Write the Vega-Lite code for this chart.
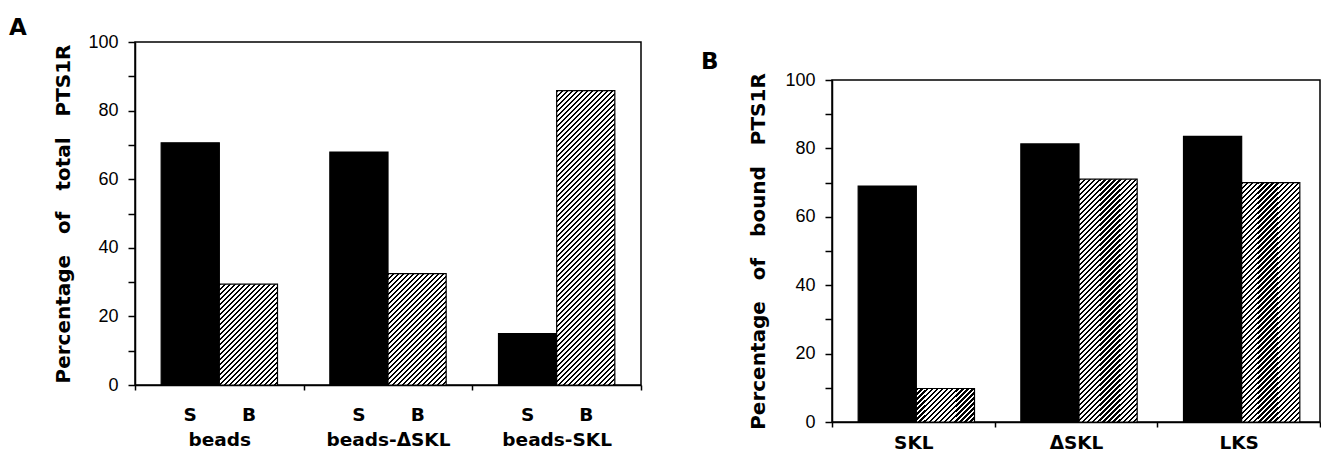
{
  "$schema": "https://vega.github.io/schema/vega-lite/v6.json",
  "background": "white",
  "padding": {"left": 8, "top": 16, "right": 0, "bottom": 0},
  "spacing": 191,
  "bounds": "flush",
  "params": [
    {"name": "hs", "value": [
      {"offset":0,"color":"#000"},{"offset":0.006,"color":"#000"},{"offset":0.006,"color":"#fff"},{"offset":0.0125,"color":"#fff"},
      {"offset":0.0125,"color":"#000"},{"offset":0.0185,"color":"#000"},{"offset":0.0185,"color":"#fff"},{"offset":0.025,"color":"#fff"},
      {"offset":0.025,"color":"#000"},{"offset":0.031,"color":"#000"},{"offset":0.031,"color":"#fff"},{"offset":0.0375,"color":"#fff"},
      {"offset":0.0375,"color":"#000"},{"offset":0.0435,"color":"#000"},{"offset":0.0435,"color":"#fff"},{"offset":0.05,"color":"#fff"},
      {"offset":0.05,"color":"#000"},{"offset":0.056,"color":"#000"},{"offset":0.056,"color":"#fff"},{"offset":0.0625,"color":"#fff"},
      {"offset":0.0625,"color":"#000"},{"offset":0.0685,"color":"#000"},{"offset":0.0685,"color":"#fff"},{"offset":0.075,"color":"#fff"},
      {"offset":0.075,"color":"#000"},{"offset":0.081,"color":"#000"},{"offset":0.081,"color":"#fff"},{"offset":0.0875,"color":"#fff"},
      {"offset":0.0875,"color":"#000"},{"offset":0.0935,"color":"#000"},{"offset":0.0935,"color":"#fff"},{"offset":0.1,"color":"#fff"},
      {"offset":0.1,"color":"#000"},{"offset":0.106,"color":"#000"},{"offset":0.106,"color":"#fff"},{"offset":0.1125,"color":"#fff"},
      {"offset":0.1125,"color":"#000"},{"offset":0.1185,"color":"#000"},{"offset":0.1185,"color":"#fff"},{"offset":0.125,"color":"#fff"},
      {"offset":0.125,"color":"#000"},{"offset":0.131,"color":"#000"},{"offset":0.131,"color":"#fff"},{"offset":0.1375,"color":"#fff"},
      {"offset":0.1375,"color":"#000"},{"offset":0.1435,"color":"#000"},{"offset":0.1435,"color":"#fff"},{"offset":0.15,"color":"#fff"},
      {"offset":0.15,"color":"#000"},{"offset":0.156,"color":"#000"},{"offset":0.156,"color":"#fff"},{"offset":0.1625,"color":"#fff"},
      {"offset":0.1625,"color":"#000"},{"offset":0.1685,"color":"#000"},{"offset":0.1685,"color":"#fff"},{"offset":0.175,"color":"#fff"},
      {"offset":0.175,"color":"#000"},{"offset":0.181,"color":"#000"},{"offset":0.181,"color":"#fff"},{"offset":0.1875,"color":"#fff"},
      {"offset":0.1875,"color":"#000"},{"offset":0.1935,"color":"#000"},{"offset":0.1935,"color":"#fff"},{"offset":0.2,"color":"#fff"},
      {"offset":0.2,"color":"#000"},{"offset":0.206,"color":"#000"},{"offset":0.206,"color":"#fff"},{"offset":0.2125,"color":"#fff"},
      {"offset":0.2125,"color":"#000"},{"offset":0.2185,"color":"#000"},{"offset":0.2185,"color":"#fff"},{"offset":0.225,"color":"#fff"},
      {"offset":0.225,"color":"#000"},{"offset":0.231,"color":"#000"},{"offset":0.231,"color":"#fff"},{"offset":0.2375,"color":"#fff"},
      {"offset":0.2375,"color":"#000"},{"offset":0.2435,"color":"#000"},{"offset":0.2435,"color":"#fff"},{"offset":0.25,"color":"#fff"},
      {"offset":0.25,"color":"#000"},{"offset":0.256,"color":"#000"},{"offset":0.256,"color":"#fff"},{"offset":0.2625,"color":"#fff"},
      {"offset":0.2625,"color":"#000"},{"offset":0.2685,"color":"#000"},{"offset":0.2685,"color":"#fff"},{"offset":0.275,"color":"#fff"},
      {"offset":0.275,"color":"#000"},{"offset":0.281,"color":"#000"},{"offset":0.281,"color":"#fff"},{"offset":0.2875,"color":"#fff"},
      {"offset":0.2875,"color":"#000"},{"offset":0.2935,"color":"#000"},{"offset":0.2935,"color":"#fff"},{"offset":0.3,"color":"#fff"},
      {"offset":0.3,"color":"#000"},{"offset":0.306,"color":"#000"},{"offset":0.306,"color":"#fff"},{"offset":0.3125,"color":"#fff"},
      {"offset":0.3125,"color":"#000"},{"offset":0.3185,"color":"#000"},{"offset":0.3185,"color":"#fff"},{"offset":0.325,"color":"#fff"},
      {"offset":0.325,"color":"#000"},{"offset":0.331,"color":"#000"},{"offset":0.331,"color":"#fff"},{"offset":0.3375,"color":"#fff"},
      {"offset":0.3375,"color":"#000"},{"offset":0.3435,"color":"#000"},{"offset":0.3435,"color":"#fff"},{"offset":0.35,"color":"#fff"},
      {"offset":0.35,"color":"#000"},{"offset":0.356,"color":"#000"},{"offset":0.356,"color":"#fff"},{"offset":0.3625,"color":"#fff"},
      {"offset":0.3625,"color":"#000"},{"offset":0.3685,"color":"#000"},{"offset":0.3685,"color":"#fff"},{"offset":0.375,"color":"#fff"},
      {"offset":0.375,"color":"#000"},{"offset":0.381,"color":"#000"},{"offset":0.381,"color":"#fff"},{"offset":0.3875,"color":"#fff"},
      {"offset":0.3875,"color":"#000"},{"offset":0.3935,"color":"#000"},{"offset":0.3935,"color":"#fff"},{"offset":0.4,"color":"#fff"},
      {"offset":0.4,"color":"#000"},{"offset":0.406,"color":"#000"},{"offset":0.406,"color":"#fff"},{"offset":0.4125,"color":"#fff"},
      {"offset":0.4125,"color":"#000"},{"offset":0.4185,"color":"#000"},{"offset":0.4185,"color":"#fff"},{"offset":0.425,"color":"#fff"},
      {"offset":0.425,"color":"#000"},{"offset":0.431,"color":"#000"},{"offset":0.431,"color":"#fff"},{"offset":0.4375,"color":"#fff"},
      {"offset":0.4375,"color":"#000"},{"offset":0.4435,"color":"#000"},{"offset":0.4435,"color":"#fff"},{"offset":0.45,"color":"#fff"},
      {"offset":0.45,"color":"#000"},{"offset":0.456,"color":"#000"},{"offset":0.456,"color":"#fff"},{"offset":0.4625,"color":"#fff"},
      {"offset":0.4625,"color":"#000"},{"offset":0.4685,"color":"#000"},{"offset":0.4685,"color":"#fff"},{"offset":0.475,"color":"#fff"},
      {"offset":0.475,"color":"#000"},{"offset":0.481,"color":"#000"},{"offset":0.481,"color":"#fff"},{"offset":0.4875,"color":"#fff"},
      {"offset":0.4875,"color":"#000"},{"offset":0.4935,"color":"#000"},{"offset":0.4935,"color":"#fff"},{"offset":0.5,"color":"#fff"},
      {"offset":0.5,"color":"#000"},{"offset":0.506,"color":"#000"},{"offset":0.506,"color":"#fff"},{"offset":0.5125,"color":"#fff"},
      {"offset":0.5125,"color":"#000"},{"offset":0.5185,"color":"#000"},{"offset":0.5185,"color":"#fff"},{"offset":0.525,"color":"#fff"},
      {"offset":0.525,"color":"#000"},{"offset":0.531,"color":"#000"},{"offset":0.531,"color":"#fff"},{"offset":0.5375,"color":"#fff"},
      {"offset":0.5375,"color":"#000"},{"offset":0.5435,"color":"#000"},{"offset":0.5435,"color":"#fff"},{"offset":0.55,"color":"#fff"},
      {"offset":0.55,"color":"#000"},{"offset":0.556,"color":"#000"},{"offset":0.556,"color":"#fff"},{"offset":0.5625,"color":"#fff"},
      {"offset":0.5625,"color":"#000"},{"offset":0.5685,"color":"#000"},{"offset":0.5685,"color":"#fff"},{"offset":0.575,"color":"#fff"},
      {"offset":0.575,"color":"#000"},{"offset":0.581,"color":"#000"},{"offset":0.581,"color":"#fff"},{"offset":0.5875,"color":"#fff"},
      {"offset":0.5875,"color":"#000"},{"offset":0.5935,"color":"#000"},{"offset":0.5935,"color":"#fff"},{"offset":0.6,"color":"#fff"},
      {"offset":0.6,"color":"#000"},{"offset":0.606,"color":"#000"},{"offset":0.606,"color":"#fff"},{"offset":0.6125,"color":"#fff"},
      {"offset":0.6125,"color":"#000"},{"offset":0.6185,"color":"#000"},{"offset":0.6185,"color":"#fff"},{"offset":0.625,"color":"#fff"},
      {"offset":0.625,"color":"#000"},{"offset":0.631,"color":"#000"},{"offset":0.631,"color":"#fff"},{"offset":0.6375,"color":"#fff"},
      {"offset":0.6375,"color":"#000"},{"offset":0.6435,"color":"#000"},{"offset":0.6435,"color":"#fff"},{"offset":0.65,"color":"#fff"},
      {"offset":0.65,"color":"#000"},{"offset":0.656,"color":"#000"},{"offset":0.656,"color":"#fff"},{"offset":0.6625,"color":"#fff"},
      {"offset":0.6625,"color":"#000"},{"offset":0.6685,"color":"#000"},{"offset":0.6685,"color":"#fff"},{"offset":0.675,"color":"#fff"},
      {"offset":0.675,"color":"#000"},{"offset":0.681,"color":"#000"},{"offset":0.681,"color":"#fff"},{"offset":0.6875,"color":"#fff"},
      {"offset":0.6875,"color":"#000"},{"offset":0.6935,"color":"#000"},{"offset":0.6935,"color":"#fff"},{"offset":0.7,"color":"#fff"},
      {"offset":0.7,"color":"#000"},{"offset":0.706,"color":"#000"},{"offset":0.706,"color":"#fff"},{"offset":0.7125,"color":"#fff"},
      {"offset":0.7125,"color":"#000"},{"offset":0.7185,"color":"#000"},{"offset":0.7185,"color":"#fff"},{"offset":0.725,"color":"#fff"},
      {"offset":0.725,"color":"#000"},{"offset":0.731,"color":"#000"},{"offset":0.731,"color":"#fff"},{"offset":0.7375,"color":"#fff"},
      {"offset":0.7375,"color":"#000"},{"offset":0.7435,"color":"#000"},{"offset":0.7435,"color":"#fff"},{"offset":0.75,"color":"#fff"},
      {"offset":0.75,"color":"#000"},{"offset":0.756,"color":"#000"},{"offset":0.756,"color":"#fff"},{"offset":0.7625,"color":"#fff"},
      {"offset":0.7625,"color":"#000"},{"offset":0.7685,"color":"#000"},{"offset":0.7685,"color":"#fff"},{"offset":0.775,"color":"#fff"},
      {"offset":0.775,"color":"#000"},{"offset":0.781,"color":"#000"},{"offset":0.781,"color":"#fff"},{"offset":0.7875,"color":"#fff"},
      {"offset":0.7875,"color":"#000"},{"offset":0.7935,"color":"#000"},{"offset":0.7935,"color":"#fff"},{"offset":0.8,"color":"#fff"},
      {"offset":0.8,"color":"#000"},{"offset":0.806,"color":"#000"},{"offset":0.806,"color":"#fff"},{"offset":0.8125,"color":"#fff"},
      {"offset":0.8125,"color":"#000"},{"offset":0.8185,"color":"#000"},{"offset":0.8185,"color":"#fff"},{"offset":0.825,"color":"#fff"},
      {"offset":0.825,"color":"#000"},{"offset":0.831,"color":"#000"},{"offset":0.831,"color":"#fff"},{"offset":0.8375,"color":"#fff"},
      {"offset":0.8375,"color":"#000"},{"offset":0.8435,"color":"#000"},{"offset":0.8435,"color":"#fff"},{"offset":0.85,"color":"#fff"},
      {"offset":0.85,"color":"#000"},{"offset":0.856,"color":"#000"},{"offset":0.856,"color":"#fff"},{"offset":0.8625,"color":"#fff"},
      {"offset":0.8625,"color":"#000"},{"offset":0.8685,"color":"#000"},{"offset":0.8685,"color":"#fff"},{"offset":0.875,"color":"#fff"},
      {"offset":0.875,"color":"#000"},{"offset":0.881,"color":"#000"},{"offset":0.881,"color":"#fff"},{"offset":0.8875,"color":"#fff"},
      {"offset":0.8875,"color":"#000"},{"offset":0.8935,"color":"#000"},{"offset":0.8935,"color":"#fff"},{"offset":1,"color":"#fff"}
    ]}
  ],
  "config": {
    "view": {"stroke": "#000", "strokeWidth": 1.5},
    "axis": {
      "domainColor": "#000", "domainWidth": 1.5, "tickColor": "#000", "tickWidth": 1.5,
      "labelColor": "#000", "titleColor": "#000", "grid": false
    }
  },
  "hconcat": [
    {
      "width": 506,
      "height": 343,
      "title": {"text": "A", "anchor": "start", "frame": "bounds", "dx": -45, "offset": -30, "font": "DejaVu Sans", "fontSize": 23, "fontWeight": "bold", "color": "#000", "baseline": "bottom"},
      "data": {"values": [
        {"g": "beads", "s": "S", "v": 70.6},
        {"g": "beads", "s": "B", "v": 29.4},
        {"g": "beads-ΔSKL", "s": "S", "v": 67.9},
        {"g": "beads-ΔSKL", "s": "B", "v": 32.5},
        {"g": "beads-SKL", "s": "S", "v": 15.0},
        {"g": "beads-SKL", "s": "B", "v": 85.8}
      ]},
      "mark": {"type": "bar", "stroke": "#000", "strokeWidth": 1.2},
      "encoding": {
        "x": {"field": "g", "type": "nominal", "sort": null,
          "scale": {"paddingInner": 0, "paddingOuter": 0},
          "axis": {"title": null, "labelAngle": 0, "tickBand": "extent", "tickSize": 5, "labelPadding": 15,
            "labelFont": "DejaVu Sans", "labelFontWeight": "bold", "labelFontSize": 18.5, "labelLineHeight": 25,
            "labelExpr": "datum.label ? ['S\u00a0\u00a0\u00a0\u00a0\u00a0\u00a0\u00a0B', datum.label] : ''"}},
        "xOffset": {"field": "s", "type": "nominal", "sort": ["S", "B"], "scale": {"paddingInner": 0, "paddingOuter": 0.45}},
        "y": {"field": "v", "type": "quantitative", "scale": {"domain": [0, 100], "nice": false},
          "axis": {"title": "Percentage\u00a0\u00a0\u00a0of\u00a0\u00a0\u00a0total\u00a0\u00a0\u00a0PTS1R",
            "values": [0, 10, 20, 30, 40, 50, 60, 70, 80, 90, 100],
            "labelExpr": "datum.value % 20 === 0 ? datum.label : ''",
            "tickSize": 7, "labelPadding": 10, "labelFont": "Liberation Sans", "labelFontSize": 18,
            "titleFont": "DejaVu Sans", "titleFontWeight": "bold", "titleFontSize": 20, "titlePadding": 14}},
        "fill": {"value": {"expr": "datum.s === 'S' ? '#000' : {gradient: 'linear', x1: 0, y1: 0, x2: 400 / (58.16 + pow(datum.v * 3.43, 2) / 58.16), y2: 400 / (58.16 + pow(datum.v * 3.43, 2) / 58.16) * datum.v * 3.43 / 58.16, stops: hs}"}}
      }
    },
    {
      "bounds": "flush",
      "spacing": 0,
      "vconcat": [
        {
          "width": 488,
          "height": 38,
          "view": {"stroke": null},
          "data": {"values": []},
          "mark": {"type": "point", "opacity": 0},
          "encoding": {}
        },
        {
          "width": 488,
          "height": 342,
          "title": {"text": "B", "anchor": "start", "frame": "bounds", "dx": -48, "offset": -26, "font": "DejaVu Sans", "fontSize": 23, "fontWeight": "bold", "color": "#000", "baseline": "bottom"},
          "data": {"values": [
            {"g": "SKL", "s": "S", "v": 69.0},
            {"g": "SKL", "s": "B", "v": 9.8},
            {"g": "ΔSKL", "s": "S", "v": 81.3},
            {"g": "ΔSKL", "s": "B", "v": 71.0},
            {"g": "LKS", "s": "S", "v": 83.5},
            {"g": "LKS", "s": "B", "v": 70.0}
          ]},
          "mark": {"type": "bar", "stroke": "#000", "strokeWidth": 1.2},
          "encoding": {
            "x": {"field": "g", "type": "nominal", "sort": null,
              "scale": {"paddingInner": 0, "paddingOuter": 0},
              "axis": {"title": null, "labelAngle": 0, "tickBand": "extent", "tickSize": 5, "labelPadding": 6,
                "labelFont": "DejaVu Sans", "labelFontWeight": "bold", "labelFontSize": 18.5}},
            "xOffset": {"field": "s", "type": "nominal", "sort": ["S", "B"], "scale": {"paddingInner": 0, "paddingOuter": 0.43}},
            "y": {"field": "v", "type": "quantitative", "scale": {"domain": [0, 100], "nice": false},
              "axis": {"title": "Percentage\u00a0\u00a0\u00a0of\u00a0\u00a0\u00a0bound\u00a0\u00a0\u00a0PTS1R",
                "values": [0, 10, 20, 30, 40, 50, 60, 70, 80, 90, 100],
                "labelExpr": "datum.value % 20 === 0 ? datum.label : ''",
                "tickSize": 7, "labelPadding": 10, "labelFont": "Liberation Sans", "labelFontSize": 18,
                "titleFont": "DejaVu Sans", "titleFontWeight": "bold", "titleFontSize": 20, "titlePadding": 16}},
            "fill": {"value": {"expr": "datum.s === 'S' ? '#000' : {gradient: 'linear', x1: 0, y1: 0, x2: 400 / (57 + pow(datum.v * 3.42, 2) / 57), y2: 400 / (57 + pow(datum.v * 3.42, 2) / 57) * datum.v * 3.42 / 57, stops: hs}"}}
          }
        }
      ]
    }
  ]
}
